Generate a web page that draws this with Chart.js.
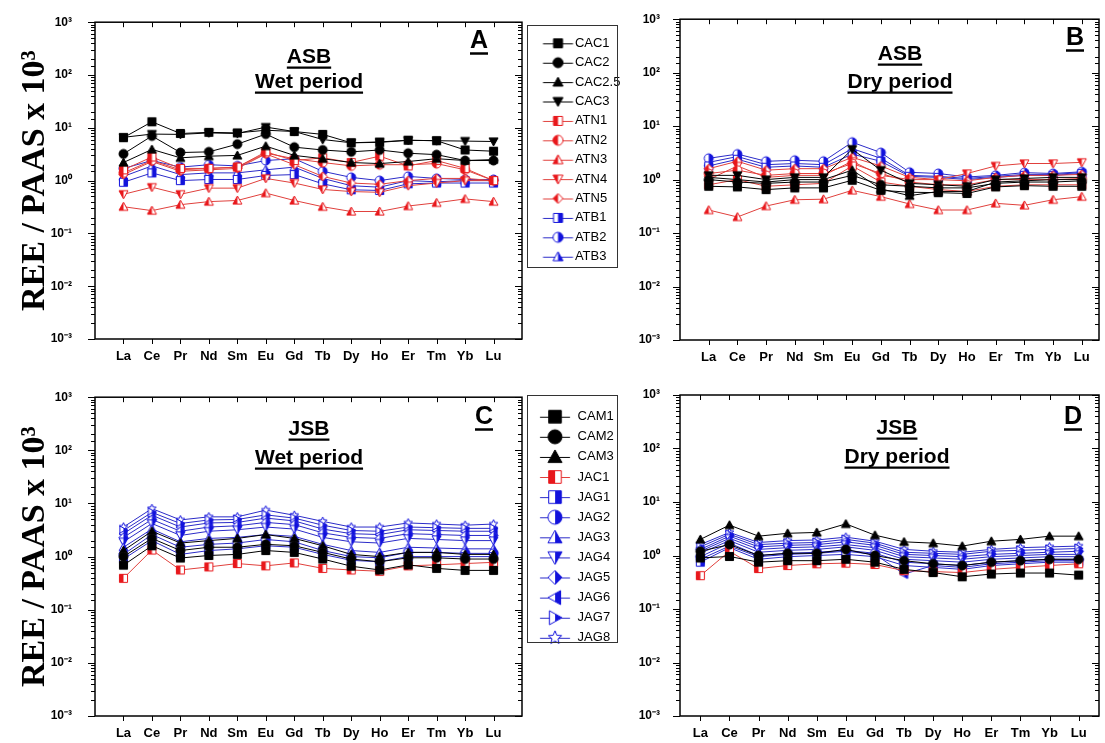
<!DOCTYPE html>
<html>
<head>
<meta charset="utf-8">
<title>REE / PAAS</title>
<script src="https://cdn.jsdelivr.net/npm/chart.js"></script>
<style>
    body { margin: 0; background: #fff; overflow: hidden; width: 1105px; height: 743px; position: relative; }
    canvas { position: absolute; }
</style>
</head>
<body>
<canvas id="chartA" width="620" height="372" style="left:0px;top:0px"></canvas>
<canvas id="chartB" width="505" height="372" style="left:600px;top:0px"></canvas>
<canvas id="chartC" width="620" height="368" style="left:0px;top:375px"></canvas>
<canvas id="chartD" width="505" height="368" style="left:600px;top:375px"></canvas>
<script>
    // x categories and y tick labels
    const categories = ['La', 'Ce', 'Pr', 'Nd', 'Sm', 'Eu', 'Gd', 'Tb', 'Dy', 'Ho', 'Er', 'Tm', 'Yb', 'Lu'];
    const decadeLabels = ['10⁻³', '10⁻²', '10⁻¹', '10⁰', '10¹', '10²', '10³'];

    // series names
    const asbSeries = ['CAC1', 'CAC2', 'CAC2.5', 'CAC3', 'ATN1', 'ATN2', 'ATN3', 'ATN4', 'ATN5', 'ATB1', 'ATB2', 'ATB3'];
    const jsbSeries = ['CAM1', 'CAM2', 'CAM3', 'JAC1', 'JAG1', 'JAG2', 'JAG3', 'JAG4', 'JAG5', 'JAG6', 'JAG7', 'JAG8'];

    // A - ASB wet period (same order as asbSeries)
    const asbWet = [
        [6.5, 13, 7.8, 8.2, 8, 9, 8.5, 7.5, 5.2, 5.3, 5.8, 5.7, 3.8, 3.6],
        [3.2, 7, 3.4, 3.5, 4.9, 7.6, 4.3, 3.8, 3.5, 3.8, 3.3, 3.1, 2.4, 2.4],
        [2.2, 3.9, 2.7, 2.9, 3.0, 4.5, 3.0, 2.6, 2.2, 2.1, 2.3, 2.6, 2.4, 2.5],
        [6.6, 7.6, 7.5, 8.0, 7.8, 10.3, 8.5, 6.0, 5.2, 5.4, 5.8, 5.7, 5.6, 5.5],
        [1.6, 2.8, 1.7, 1.7, 1.8, 3.5, 2.4, 2.7, 2.2, 2.9, 1.9, 2.4, 1.7, 1.0],
        [1.4, 2.4, 1.6, 1.7, 1.8, 3.3, 2.6, 2.2, 1.9, 2.0, 2.0, 2.1, 1.6, 1.0],
        [0.32, 0.27, 0.35, 0.4, 0.42, 0.58, 0.42, 0.32, 0.26, 0.26, 0.33, 0.38, 0.45, 0.4],
        [0.55, 0.75, 0.55, 0.72, 0.72, 1.1, 0.9, 0.68, 0.62, 0.6, 0.8, 0.9, 1.0, 1.0],
        [1.3, 2.3, 1.5, 1.6, 1.7, 3.2, 2.0, 1.2, 0.9, 0.85, 1.0, 1.1, 1.1, 1.0],
        [0.93, 1.4, 1.0, 1.05, 1.05, 1.25, 1.3, 0.87, 0.67, 0.65, 0.87, 0.9, 0.9, 0.9],
        [1.7, 2.4, 1.8, 2.0, 1.9, 2.4, 2.6, 1.5, 1.15, 1.0, 1.2, 1.1, 1.05, 1.05],
        [1.2, 1.9, 1.3, 1.4, 1.4, 1.6, 1.8, 1.1, 0.8, 0.75, 1.0, 0.95, 1.0, 1.0]
    ];

    // B - ASB dry period
    const asbDry = [
        [0.75, 0.73, 0.65, 0.7, 0.7, 0.97, 0.63, 0.58, 0.57, 0.55, 0.73, 0.77, 0.75, 0.75],
        [1.0, 0.9, 0.85, 0.9, 0.9, 1.2, 0.8, 0.75, 0.7, 0.7, 0.85, 0.9, 0.9, 0.95],
        [1.1, 1.0, 0.9, 1.0, 1.0, 1.5, 0.67, 0.5, 0.6, 0.6, 0.9, 0.95, 1.0, 1.0],
        [1.2, 1.2, 1.0, 1.1, 1.1, 3.7, 1.5, 0.85, 0.8, 0.75, 1.0, 1.05, 1.1, 1.1],
        [0.8, 1.0, 0.75, 0.8, 0.85, 1.8, 0.9, 0.75, 0.65, 0.6, 0.75, 0.8, 0.8, 0.8],
        [1.3, 1.5, 1.2, 1.3, 1.3, 2.0, 1.3, 0.9, 0.8, 0.8, 1.0, 1.0, 1.0, 1.05],
        [0.27, 0.2, 0.32, 0.42, 0.43, 0.63, 0.48, 0.35, 0.27, 0.27, 0.36, 0.33, 0.42, 0.48],
        [1.0, 1.8, 1.1, 1.2, 1.2, 2.2, 1.2, 1.0, 1.0, 1.3, 1.8, 2.0, 2.0, 2.1],
        [1.6, 2.2, 1.5, 1.6, 1.6, 2.6, 1.8, 1.1, 1.0, 0.95, 1.1, 1.2, 1.2, 1.25],
        [1.8, 2.4, 1.7, 1.8, 1.7, 3.0, 2.2, 1.15, 1.1, 1.0, 1.1, 1.2, 1.2, 1.3],
        [2.5, 3.0, 2.2, 2.3, 2.2, 5.0, 3.2, 1.37, 1.3, 1.12, 1.2, 1.35, 1.3, 1.4],
        [2.1, 2.7, 1.9, 2.0, 1.9, 3.8, 2.5, 1.2, 1.15, 1.05, 1.15, 1.25, 1.25, 1.35]
    ];

    // C - JSB wet period (same order as jsbSeries)
    const jsbWet = [
        [0.69, 1.6, 0.94, 1.05, 1.1, 1.3, 1.2, 0.9, 0.66, 0.56, 0.7, 0.6, 0.55, 0.55],
        [1.0, 2.2, 1.3, 1.5, 1.5, 1.7, 1.6, 1.2, 0.9, 0.8, 0.95, 0.95, 0.9, 0.9],
        [1.3, 3.0, 1.8, 2.0, 2.2, 2.6, 2.2, 1.6, 1.1, 1.0, 1.2, 1.2, 1.1, 1.1],
        [0.39, 1.33, 0.56, 0.64, 0.74, 0.67, 0.76, 0.6, 0.56, 0.53, 0.67, 0.7, 0.74, 0.78],
        [0.9, 2.0, 1.1, 1.3, 1.4, 1.6, 1.5, 1.1, 0.85, 0.8, 1.0, 1.0, 1.0, 1.0],
        [1.1, 2.6, 1.5, 1.7, 1.8, 2.1, 1.9, 1.3, 1.0, 0.95, 1.2, 1.2, 1.15, 1.15],
        [1.5, 3.3, 1.9, 2.2, 2.3, 2.6, 2.4, 1.7, 1.3, 1.2, 1.5, 1.45, 1.4, 1.4],
        [1.9, 4.2, 2.5, 3.0, 3.2, 3.6, 3.3, 2.3, 1.9, 1.8, 2.2, 2.1, 2.0, 2.0],
        [2.3, 5.0, 3.0, 3.6, 3.8, 4.4, 4.0, 2.8, 2.3, 2.2, 2.7, 2.6, 2.5, 2.5],
        [2.7, 6.0, 3.6, 4.3, 4.4, 5.3, 4.7, 3.3, 2.7, 2.6, 3.2, 3.1, 3.0, 3.0],
        [3.1, 6.8, 4.2, 4.9, 5.0, 6.1, 5.3, 3.9, 3.1, 3.0, 3.6, 3.5, 3.4, 3.4],
        [3.6, 8.0, 4.9, 5.6, 5.6, 7.5, 6.0, 4.6, 3.6, 3.6, 4.3, 4.1, 3.9, 4.1]
    ];

    // D - JSB dry period
    const jsbDry = [
        [0.9, 0.96, 0.75, 0.8, 0.8, 0.85, 0.75, 0.55, 0.48, 0.4, 0.45, 0.47, 0.47, 0.43],
        [1.2, 1.6, 1.0, 1.1, 1.1, 1.3, 1.0, 0.8, 0.7, 0.65, 0.75, 0.8, 0.85, 0.85],
        [2.0, 3.7, 2.3, 2.6, 2.7, 3.9, 2.4, 1.8, 1.7, 1.5, 1.85, 2.0, 2.3, 2.3],
        [0.42, 1.2, 0.57, 0.65, 0.7, 0.72, 0.68, 0.52, 0.5, 0.48, 0.55, 0.6, 0.65, 0.7],
        [0.75, 1.4, 0.85, 0.95, 1.0, 1.05, 0.95, 0.65, 0.6, 0.55, 0.65, 0.7, 0.75, 0.75],
        [0.95, 1.7, 1.0, 1.1, 1.15, 1.25, 1.1, 0.75, 0.7, 0.65, 0.75, 0.8, 0.85, 0.85],
        [1.1, 1.9, 1.15, 1.25, 1.3, 1.45, 1.25, 0.85, 0.8, 0.75, 0.85, 0.9, 0.95, 0.95],
        [1.2, 2.1, 1.3, 1.4, 1.45, 1.6, 1.4, 0.95, 0.9, 0.85, 0.95, 1.0, 1.05, 1.05],
        [1.3, 2.3, 1.45, 1.55, 1.6, 1.8, 1.55, 1.05, 1.0, 0.95, 1.05, 1.1, 1.15, 1.2],
        [0.85, 1.5, 0.95, 1.05, 1.1, 1.2, 1.05, 0.45, 0.65, 0.6, 0.7, 0.75, 0.8, 0.8],
        [1.45, 2.5, 1.6, 1.7, 1.75, 2.0, 1.7, 1.15, 1.1, 1.05, 1.2, 1.25, 1.3, 1.35],
        [1.6, 2.7, 1.75, 1.9, 1.95, 2.2, 1.85, 1.3, 1.2, 1.15, 1.3, 1.4, 1.45, 1.5]
    ];

    // marker shape, colour, fill per series
    const markerStyle = {
        'CAC1': ['square', 'black', 'full'],
        'CAC2': ['circle', 'black', 'full'],
        'CAC2.5': ['triangle', 'black', 'full'],
        'CAC3': ['triangleDown', 'black', 'full'],
        'ATN1': ['square', 'red', 'left'],
        'ATN2': ['circle', 'red', 'left'],
        'ATN3': ['triangle', 'red', 'left'],
        'ATN4': ['triangleDown', 'red', 'left'],
        'ATN5': ['diamond', 'red', 'left'],
        'ATB1': ['square', 'blue', 'right'],
        'ATB2': ['circle', 'blue', 'right'],
        'ATB3': ['triangle', 'blue', 'right'],
        'CAM1': ['square', 'black', 'full'],
        'CAM2': ['circle', 'black', 'full'],
        'CAM3': ['triangle', 'black', 'full'],
        'JAC1': ['square', 'red', 'left'],
        'JAG1': ['square', 'blue', 'right'],
        'JAG2': ['circle', 'blue', 'right'],
        'JAG3': ['triangle', 'blue', 'right'],
        'JAG4': ['triangleDown', 'blue', 'right'],
        'JAG5': ['diamond', 'blue', 'right'],
        'JAG6': ['triangleLeft', 'blue', 'right'],
        'JAG7': ['triangleRight', 'blue', 'right'],
        'JAG8': ['star', 'blue', 'none']
    };
    const markColor = { black: '#000000', red: '#e8171b', blue: '#1212dc' };
    const lineColor = { black: '#000000', red: '#e0403c', blue: '#2b2bc8' };

    Chart.defaults.color = '#000';
    Chart.defaults.font.family = '"Liberation Sans", Arial, sans-serif';

    function shapePath(g, shape, cx, cy, r) {
        g.beginPath();
        switch (shape) {
            case 'square': {
                const s = r * 0.9;
                g.rect(cx - s, cy - s, 2 * s, 2 * s);
                break;
            }
            case 'circle':
                g.arc(cx, cy, r, 0, Math.PI * 2);
                break;
            case 'triangle':
                g.moveTo(cx, cy - r); g.lineTo(cx + r, cy + r * 0.8); g.lineTo(cx - r, cy + r * 0.8); g.closePath();
                break;
            case 'triangleDown':
                g.moveTo(cx, cy + r); g.lineTo(cx + r, cy - r * 0.8); g.lineTo(cx - r, cy - r * 0.8); g.closePath();
                break;
            case 'triangleLeft':
                g.moveTo(cx - r, cy); g.lineTo(cx + r * 0.8, cy - r); g.lineTo(cx + r * 0.8, cy + r); g.closePath();
                break;
            case 'triangleRight':
                g.moveTo(cx + r, cy); g.lineTo(cx - r * 0.8, cy - r); g.lineTo(cx - r * 0.8, cy + r); g.closePath();
                break;
            case 'diamond':
                g.moveTo(cx, cy - r); g.lineTo(cx + r, cy); g.lineTo(cx, cy + r); g.lineTo(cx - r, cy); g.closePath();
                break;
            case 'star':
                for (let k = 0; k < 10; k++) {
                    const a = -Math.PI / 2 + k * Math.PI / 5;
                    const rr = k % 2 ? r * 0.45 : r;
                    g.lineTo(cx + rr * Math.cos(a), cy + rr * Math.sin(a));
                }
                g.closePath();
                break;
        }
    }

    // marker image, optionally with the legend line through it
    function makeMarker(name, size, legend) {
        const [shape, colorName, fill] = markerStyle[name];
        const color = markColor[colorName];
        const h = size + 4;
        const w = legend ? legend.width : size + 4;
        const cx = legend ? legend.mark : w / 2;
        const cy = h / 2;
        const r = size / 2;
        const c = document.createElement('canvas');
        c.width = w;
        c.height = h;
        const g = c.getContext('2d');
        if (legend) {
            g.strokeStyle = lineColor[colorName];
            g.lineWidth = 1;
            g.beginPath();
            g.moveTo(legend.from, Math.round(cy) + 0.5);
            g.lineTo(legend.to, Math.round(cy) + 0.5);
            g.stroke();
        }
        shapePath(g, shape, cx, cy, r);
        g.fillStyle = '#fff';
        g.fill();
        if (fill !== 'none') {
            g.save();
            if (fill !== 'full') {
                g.beginPath();
                if (fill === 'left') g.rect(0, 0, cx, h);
                else g.rect(cx, 0, w - cx, h);
                g.clip();
            }
            shapePath(g, shape, cx, cy, r);
            g.fillStyle = color;
            g.fill();
            g.restore();
        }
        shapePath(g, shape, cx, cy, r);
        g.strokeStyle = color;
        g.lineWidth = 1;
        g.stroke();
        return c;
    }

    function isDecade(v) {
        const e = Math.log10(v);
        return Math.abs(e - Math.round(e)) < 1e-6;
    }

    // box, mirrored ticks (inward on top/right)
    const framePlugin = {
        id: 'frame',
        afterDraw(chart) {
            const {ctx, chartArea: a, scales: {x, y}} = chart;
            ctx.save();
            ctx.strokeStyle = '#000';
            ctx.lineWidth = 1.5;
            ctx.strokeRect(a.left, a.top, a.right - a.left, a.bottom - a.top);
            ctx.lineWidth = 1;
            ctx.beginPath();
            y.ticks.forEach(t => {
                const py = Math.round(y.getPixelForValue(t.value)) + 0.5;
                const len = isDecade(t.value) ? 7 : 4;
                ctx.moveTo(a.left - len, py); ctx.lineTo(a.left, py);
                ctx.moveTo(a.right, py); ctx.lineTo(a.right - len, py);
            });
            categories.forEach((c, i) => {
                const px = Math.round(x.getPixelForValue(i)) + 0.5;
                ctx.moveTo(px, a.bottom); ctx.lineTo(px, a.bottom + 5);
                ctx.moveTo(px, a.top); ctx.lineTo(px, a.top + 5);
            });
            ctx.stroke();
            ctx.restore();
        }
    };

    // underlined panel captions
    const captionPlugin = {
        id: 'captions',
        afterDraw(chart, args, opts) {
            const ctx = chart.ctx;
            ctx.save();
            ctx.fillStyle = '#000';
            ctx.strokeStyle = '#000';
            ctx.textAlign = 'center';
            ctx.textBaseline = 'alphabetic';
            (opts.items || []).forEach(it => {
                ctx.font = 'bold ' + it.size + 'px "Liberation Sans", Arial, sans-serif';
                ctx.fillText(it.text, it.x, it.y);
                const w = ctx.measureText(it.text).width;
                const uy = it.y + it.size * 0.22;
                ctx.lineWidth = it.size / 10;
                ctx.beginPath();
                ctx.moveTo(it.x - w / 2, uy);
                ctx.lineTo(it.x + w / 2, uy);
                ctx.stroke();
            });
            ctx.restore();
        }
    };

    // border round the legend
    const legendFramePlugin = {
        id: 'legendFrame',
        afterDraw(chart, args, opts) {
            if (!opts.w || !chart.legend) return;
            const ctx = chart.ctx;
            ctx.save();
            ctx.strokeStyle = '#333';
            ctx.lineWidth = 1;
            ctx.strokeRect(chart.legend.left + opts.dx + 0.5, chart.legend.top + opts.dy + 0.5, opts.w, opts.h);
            ctx.restore();
        }
    };

    Chart.register(framePlugin, captionPlugin, legendFramePlugin);

    function buildChart(id, names, values, cfg) {
        const markers = names.map(n => makeMarker(n, cfg.markSize));
        const legendMarks = cfg.legend ? names.map(n => makeMarker(n, cfg.legend.size, cfg.legend)) : [];
        const datasets = names.map((n, i) => ({
            label: n,
            data: values[i].map((v, k) => ({x: k, y: v})),
            borderColor: lineColor[markerStyle[n][1]],
            borderWidth: 1,
            pointStyle: markers[i],
            pointRadius: 5,
            fill: false,
            tension: 0
        }));

        new Chart(document.getElementById(id), {
            type: 'line',
            data: {datasets: datasets},
            options: {
                responsive: false,
                animation: false,
                events: [],
                layout: {padding: cfg.padding},
                scales: {
                    x: {
                        type: 'linear',
                        min: cfg.xMin,
                        max: cfg.xMax,
                        grid: {display: false},
                        border: {display: false},
                        ticks: {
                            stepSize: 1,
                            includeBounds: false,
                            autoSkip: false,
                            maxRotation: 0,
                            padding: 2,
                            font: {size: 13, weight: 'bold'},
                            callback: v => (Number.isInteger(v) && categories[v]) ? categories[v] : ''
                        },
                        afterFit: s => { s.height = cfg.xHeight; }
                    },
                    y: {
                        type: 'logarithmic',
                        min: 0.001,
                        max: 1000,
                        grid: {display: false},
                        border: {display: false},
                        ticks: {
                            autoSkip: false,
                            padding: cfg.yPad,
                            font: {size: 12, weight: 'bold'},
                            callback: v => isDecade(v) ? decadeLabels[Math.round(Math.log10(v)) + 3] : ''
                        },
                        title: {
                            display: !!cfg.yTitle,
                            text: 'REE / PAAS x 10³',
                            color: '#000',
                            font: {family: '"Liberation Serif", "Times New Roman", serif', size: 34, weight: 'bold'},
                            padding: {top: 15, bottom: 0}
                        },
                        afterFit: s => { s.width = cfg.yWidth; }
                    }
                },
                plugins: {
                    tooltip: {enabled: false},
                    legend: cfg.legend ? {
                        display: true,
                        position: 'right',
                        align: 'start',
                        maxWidth: cfg.legend.maxWidth,
                        title: {display: true, text: '', font: {size: 1}, padding: cfg.legend.titlePad},
                        labels: {
                            usePointStyle: true,
                            pointStyleWidth: cfg.legend.boxWidth,
                            padding: cfg.legend.gap,
                            color: '#000',
                            font: {size: 13},
                            generateLabels: chart => chart.data.datasets.map((ds, i) => ({
                                text: ds.label,
                                pointStyle: legendMarks[i],
                                fillStyle: 'rgba(0,0,0,0)',
                                strokeStyle: 'rgba(0,0,0,0)',
                                lineWidth: 0,
                                hidden: false,
                                datasetIndex: i,
                                fontColor: '#000'
                            }))
                        }
                    } : {display: false},
                    legendFrame: cfg.legend ? cfg.legend.frame : {},
                    captions: {items: cfg.captions}
                }
            }
        });
    }

    buildChart('chartA', asbSeries, asbWet, {
        padding: {top: 22, left: 0, right: 0, bottom: 0},
        xMin: -1, xMax: 14, xHeight: 33, yWidth: 95, yPad: 15, yTitle: true, markSize: 9,
        legend: {
            maxWidth: 98, boxWidth: 40, gap: 6.4, titlePad: {top: 4, bottom: 3.2},
            size: 10, width: 54, from: 21.6, to: 51.6, mark: 36.6,
            frame: {dx: 5, dy: 3, w: 90, h: 242}
        },
        captions: [
            {text: 'ASB', x: 309, y: 63, size: 21},
            {text: 'Wet period', x: 309, y: 88, size: 21},
            {text: 'A', x: 479, y: 48, size: 25}
        ]
    });

    buildChart('chartB', asbSeries, asbDry, {
        padding: {top: 18, left: 0, right: 1, bottom: 0},
        xMin: -1, xMax: 13.6, xHeight: 32, yWidth: 80, yPad: 12, yTitle: false, markSize: 9,
        captions: [
            {text: 'ASB', x: 300, y: 60, size: 21},
            {text: 'Dry period', x: 300, y: 88, size: 21},
            {text: 'B', x: 475, y: 45, size: 25}
        ]
    });

    buildChart('chartC', jsbSeries, jsbWet, {
        padding: {top: 22, left: 0, right: 0, bottom: 0},
        xMin: -1, xMax: 14, xHeight: 27, yWidth: 95, yPad: 15, yTitle: true, markSize: 9,
        legend: {
            maxWidth: 98, boxWidth: 42, gap: 7.1, titlePad: {top: 2.5, bottom: 2.4},
            size: 14, width: 44, from: 11.9, to: 41.9, mark: 26.9,
            frame: {dx: 5, dy: -2, w: 90, h: 247}
        },
        captions: [
            {text: 'JSB', x: 309, y: 60, size: 21},
            {text: 'Wet period', x: 309, y: 89, size: 21},
            {text: 'C', x: 484, y: 49, size: 25}
        ]
    });

    buildChart('chartD', jsbSeries, jsbDry, {
        padding: {top: 20, left: 0, right: 1, bottom: 0},
        xMin: -0.7, xMax: 13.7, xHeight: 27, yWidth: 80, yPad: 12, yTitle: false, markSize: 9,
        captions: [
            {text: 'JSB', x: 297, y: 59, size: 21},
            {text: 'Dry period', x: 297, y: 88, size: 21},
            {text: 'D', x: 473, y: 49, size: 25}
        ]
    });
</script>
</body>
</html>
